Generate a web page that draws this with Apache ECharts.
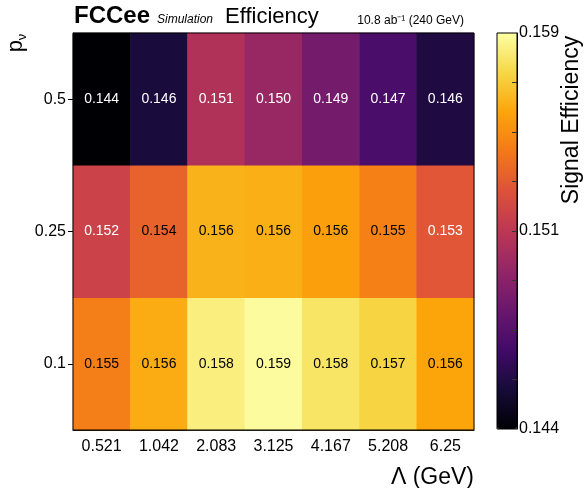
<!DOCTYPE html>
<html><head><meta charset="utf-8">
<script src="https://cdn.jsdelivr.net/npm/echarts@6/dist/echarts.min.js"></script>
<style>html,body{margin:0;padding:0;background:#fff}#c{width:585px;height:488px}</style>
</head><body><div id="c"></div>
<script>
// ---- data ----
const lambdaCategories = ['0.521','1.042','2.083','3.125','4.167','5.208','6.25'];
const pvCategories = ['0.1','0.25','0.5'];
const eff_pv_0_1  = [0.1547, 0.1562, 0.1584, 0.1589, 0.1580, 0.1574, 0.1560];
const eff_pv_0_25 = [0.1522, 0.1537, 0.1564, 0.1563, 0.1558, 0.1548, 0.1532];
const eff_pv_0_5  = [0.1440, 0.1456, 0.1511, 0.1502, 0.1489, 0.1473, 0.1458];
const colorbarMin = 0.144, colorbarMax = 0.159;
const colorbarTickValues = [0.144, 0.1515, 0.159];
const colorbarTickLabels = ['0.144', '0.151', '0.159'];
const inferno = ['#000004','#160b39','#420a68','#6a176e','#932667','#bc3754','#dd513a','#f37819','#fca50a','#f6d746','#fcffa4'];

const rows = [eff_pv_0_1, eff_pv_0_25, eff_pv_0_5];
const heatData = [];
rows.forEach((row, r) => row.forEach((v, c) => {
  heatData.push({ value: [c, r, v], label: { color: v < 0.1535 ? '#fff' : '#000' } });
}));
const minorTicks = [];
for (let i = 1; i <= 7; i++) minorTicks.push(colorbarMin + (colorbarMax - colorbarMin) * i / 8);

const FONT = 'Liberation Sans, Arial, Helvetica, sans-serif';
const chart = echarts.init(document.getElementById('c'), null, { renderer: 'canvas' });
chart.setOption({
  animation: false,
  backgroundColor: '#fff',
  textStyle: { fontFamily: FONT },
  grid: [
    { left: 73, top: 33, width: 401, height: 397, show: true, borderColor: '#000', borderWidth: 1, backgroundColor: 'transparent', z: 10 },
    { left: 497, top: 33, width: 20, height: 396, show: true, borderColor: '#000', borderWidth: 1, backgroundColor: 'transparent', z: 10 }
  ],
  xAxis: [
    { type: 'category', gridIndex: 0, data: lambdaCategories, position: 'bottom',
      axisLine: { show: true, lineStyle: { color: '#000', width: 1 } },
      axisTick: { show: true, inside: true, alignWithLabel: true, length: 5, lineStyle: { color: '#000' } },
      axisLabel: { fontSize: 16, color: '#000', margin: 9, fontFamily: FONT },
      splitLine: { show: false }, splitArea: { show: false } },
    { type: 'value', gridIndex: 1, show: false, min: 0, max: 1 }
  ],
  yAxis: [
    { type: 'category', gridIndex: 0, data: pvCategories,
      axisLine: { show: true, lineStyle: { color: '#000', width: 1 } },
      axisTick: { show: true, inside: false, alignWithLabel: true, length: 5, lineStyle: { color: '#000' } },
      axisLabel: { fontSize: 16, color: '#000', margin: 7, fontFamily: FONT },
      splitLine: { show: false }, splitArea: { show: false } },
    { type: 'value', gridIndex: 1, position: 'right', min: colorbarMin, max: colorbarMax, z: 20,
      axisLine: { show: true, onZero: false, lineStyle: { color: '#000', width: 1 } },
      axisTick: { show: true, inside: true, length: 5, customValues: minorTicks, lineStyle: { color: '#333', width: 1 } },
      axisLabel: { show: true, customValues: colorbarTickValues, fontSize: 16, color: '#000', margin: 2, fontFamily: FONT,
        formatter: (v) => {
          let best = 0;
          colorbarTickValues.forEach((t, i) => { if (Math.abs(t - v) < Math.abs(colorbarTickValues[best] - v)) best = i; });
          return colorbarTickLabels[best];
        } },
      splitLine: { show: false } }
  ],
  visualMap: {
    type: 'continuous', min: colorbarMin, max: colorbarMax, seriesIndex: 0,
    left: 497, top: 33, itemWidth: 20, itemHeight: 396, padding: 0,
    text: null, calculable: false, hoverLink: false, realtime: false,
    inRange: { color: inferno }
  },
  series: [{
    type: 'heatmap', xAxisIndex: 0, yAxisIndex: 0, data: heatData,
    label: { show: true, fontSize: 14, fontFamily: FONT, formatter: (p) => p.value[2].toFixed(3) },
    itemStyle: { borderWidth: 0 },
    emphasis: { disabled: true }
  }],
  graphic: [
    { type: 'text', x: 74, y: 28, style: { text: 'FCCee', font: 'bold 24px ' + FONT, fill: '#000', textAlign: 'left', textVerticalAlign: 'bottom' } },
    { type: 'text', x: 157, y: 26, style: { text: 'Simulation', font: 'italic 12px ' + FONT, fill: '#000', textAlign: 'left', textVerticalAlign: 'bottom' } },
    { type: 'text', x: 225, y: 17, style: { text: 'Efficiency', font: '22px ' + FONT, fill: '#000', textAlign: 'left', textVerticalAlign: 'middle' } },
    { type: 'text', x: 464, y: 21, style: { text: '10.8 ab⁻¹ (240 GeV)', font: '12px ' + FONT, fill: '#000', textAlign: 'right', textVerticalAlign: 'middle' } },
    { type: 'text', x: 474, y: 478, style: { text: 'Λ (GeV)', font: '23px ' + FONT, fill: '#000', textAlign: 'right', textVerticalAlign: 'middle' } },
    { type: 'text', x: 572, y: 120, rotation: Math.PI / 2, style: { text: 'Signal Efficiency', font: '23px ' + FONT, fill: '#000', textAlign: 'center', textVerticalAlign: 'middle' } },
    { type: 'text', x: 16, y: 43, rotation: Math.PI / 2, style: {
        text: '{p|p}{s|ν}', textAlign: 'center', textVerticalAlign: 'middle',
        rich: { p: { fontSize: 22, fontFamily: FONT, fill: '#000', color: '#000', lineHeight: 26, verticalAlign: 'middle' },
                s: { fontSize: 13, fontFamily: FONT, fill: '#000', color: '#000', lineHeight: 26, verticalAlign: 'bottom' } } } }
  ]
});
</script></body></html>
